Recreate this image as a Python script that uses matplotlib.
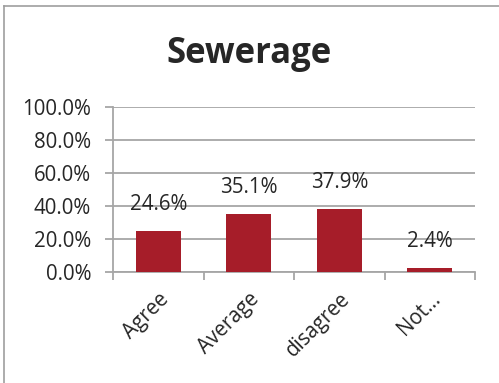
import matplotlib.pyplot as plt
from matplotlib.lines import Line2D

plt.rcParams['font.family'] = ['Open Sans', 'DejaVu Sans']

categories = ['Agree', 'Average', 'disagree', 'Not...']
values = [24.6, 35.1, 37.9, 2.4]
yticks = [0, 20, 40, 60, 80, 100]

bar_color = '#A61D29'
grid_color = '#A6A6A6'
text_color = '#262626'
fs = 14.8

fig = plt.figure(figsize=(4.99, 3.83), dpi=100)
ax = fig.add_axes([113 / 499, 1 - 272 / 383, (475 - 113) / 499, (272 - 107) / 383])

x = range(len(categories))
bars = ax.bar(x, values, width=0.5, color=bar_color, zorder=3)

for b, v in zip(bars, values):
    ax.annotate(f'{v:.1f}%', (b.get_x() + b.get_width() / 2, v),
                xytext=(0, 11.5), textcoords='offset points',
                ha='center', va='bottom', fontsize=fs, color=text_color)

ax.set_xlim(-0.5, len(categories) - 0.5)
ax.set_ylim(0, 100)
ax.set_yticks(yticks)
ax.set_yticklabels([f'{t:.1f}%' for t in yticks], fontsize=fs, color=text_color)
ax.yaxis.grid(True, color=grid_color, linewidth=1.3, zorder=0)

# category boundary ticks on x, labels at centres
ax.set_xticks([i - 0.5 for i in range(len(categories) + 1)])
ax.set_xticklabels([])
ax.set_xticks(list(x), minor=True)
ax.set_xticklabels(categories, minor=True, rotation=45, ha='right',
                   rotation_mode='anchor', fontsize=fs, color=text_color)
ax.tick_params(axis='x', which='minor', length=0, pad=12)
ax.tick_params(axis='x', which='major', length=5.8, width=1.3, color=grid_color)
ax.tick_params(axis='y', length=5.8, width=1.3, color=grid_color, pad=10)

for s in ['top', 'right']:
    ax.spines[s].set_visible(False)
for s in ['left', 'bottom']:
    ax.spines[s].set_color(grid_color)
    ax.spines[s].set_linewidth(1.3)

fig.text(0.5, 1 - 63 / 383, 'Sewerage', ha='center', va='baseline',
         fontsize=25, fontweight='bold', color=text_color)

# outer chart border (left and top visible)
fig.add_artist(Line2D([3.5 / 499, 3.5 / 499], [0, 1 - 5.5 / 383], transform=fig.transFigure,
                      color='#9E9E9E', linewidth=1.2))
fig.add_artist(Line2D([3.5 / 499, 1], [1 - 5.5 / 383, 1 - 5.5 / 383], transform=fig.transFigure,
                      color='#9E9E9E', linewidth=1.2))

fig.savefig('out.png', dpi=100)
